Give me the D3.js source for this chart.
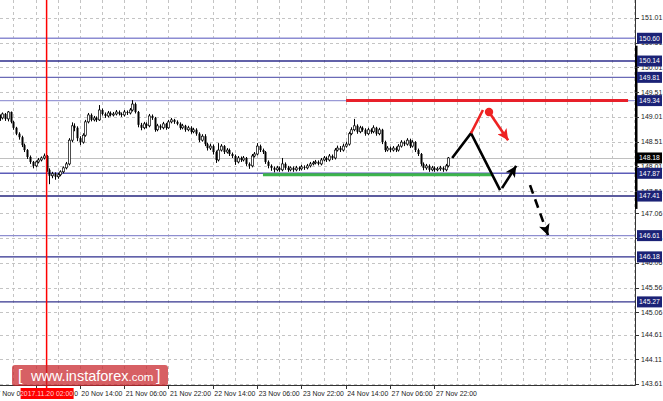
<!DOCTYPE html>
<html><head><meta charset="utf-8">
<script src="https://cdn.jsdelivr.net/npm/d3@7"></script>
<style>body{margin:0;background:#fff}svg{display:block}text{font-family:"Liberation Sans",Arial,sans-serif}</style>
</head><body><svg id="c" width="663" height="401"></svg>
<script>
// ---- data (H1 bars, index 0 = 17 Nov 06:00) ----
const firstBar = 3;
const open = [149.02,148.99,149.07,148.97,149.11,148.91,148.79,148.67,148.60,148.44,148.34,148.20,148.10,148.02,148.10,148.14,148.18,148.22,147.94,147.82,147.86,147.80,147.84,147.90,147.98,148.06,148.54,148.83,148.79,148.58,148.50,148.64,148.91,149.05,148.95,148.99,148.95,149.15,149.07,149.03,149.09,149.05,149.07,149.11,149.07,149.05,149.11,149.09,149.15,149.27,149.11,148.85,148.79,148.87,148.83,149.03,148.99,148.75,148.83,148.79,148.87,148.79,148.91,148.95,148.91,148.87,148.79,148.83,148.75,148.79,148.71,148.75,148.67,148.54,148.62,148.46,148.38,148.42,148.30,148.14,148.34,148.42,148.30,148.34,148.26,148.22,148.10,148.18,148.14,148.18,148.06,148.02,148.22,148.26,148.42,148.34,148.30,148.10,148.02,147.98,147.94,147.98,147.94,148.06,147.98,147.94,147.98,147.94,147.98,147.96,148.00,147.98,148.02,148.06,148.08,148.10,148.06,148.14,148.18,148.14,148.22,148.18,148.34,148.38,148.34,148.42,148.46,148.67,148.75,148.83,148.71,148.79,148.75,148.67,148.75,148.71,148.79,148.67,148.75,148.50,148.34,148.38,148.34,148.38,148.34,148.42,148.50,148.46,148.54,148.42,148.50,148.34,148.26,148.06,147.98,148.02,147.94,147.98,147.94,147.96,147.98,147.94,148.02];
const high = [149.06,149.10,149.09,149.13,149.12,148.93,148.81,148.70,148.63,148.47,148.36,148.23,148.12,148.13,148.18,148.21,148.27,148.24,147.97,147.90,147.89,147.88,147.93,148.01,148.10,148.58,148.90,148.88,148.82,148.62,148.68,148.95,149.09,149.08,149.03,149.02,149.25,149.18,149.10,149.13,149.12,149.11,149.15,149.14,149.10,149.15,149.14,149.19,149.35,149.30,149.13,148.89,148.91,148.90,149.07,149.06,149.01,148.87,148.86,148.91,148.89,148.95,148.99,148.97,148.94,148.90,148.87,148.85,148.83,148.82,148.79,148.78,148.70,148.66,148.66,148.49,148.47,148.45,148.33,148.48,148.46,148.44,148.38,148.37,148.29,148.25,148.22,148.21,148.22,148.20,148.09,148.26,148.30,148.48,148.45,148.37,148.32,148.13,148.05,148.01,148.02,148.01,148.18,148.09,148.02,148.01,148.01,148.02,148.01,148.04,148.03,148.06,148.10,148.12,148.14,148.13,148.18,148.22,148.21,148.26,148.25,148.38,148.43,148.42,148.47,148.51,148.71,148.80,148.97,148.86,148.83,148.82,148.78,148.79,148.78,148.84,148.81,148.79,148.77,148.53,148.42,148.41,148.42,148.41,148.46,148.54,148.53,148.58,148.57,148.54,148.52,148.37,148.28,148.09,148.06,148.05,148.02,148.01,148.00,148.02,148.01,148.06,148.20];
const low = [148.93,148.96,148.93,148.92,148.88,148.75,148.64,148.55,148.40,148.30,148.16,148.06,147.97,147.99,148.07,148.11,148.15,147.90,147.65,147.77,147.74,147.76,147.81,147.87,147.95,148.03,148.50,148.72,148.52,148.44,148.47,148.61,148.88,148.92,148.92,148.91,148.93,149.04,148.99,149.00,149.02,149.02,149.04,149.04,149.01,149.02,149.05,149.06,149.12,149.08,148.80,148.74,148.76,148.78,148.80,148.95,148.71,148.72,148.75,148.76,148.75,148.77,148.88,148.87,148.84,148.75,148.76,148.71,148.72,148.67,148.68,148.63,148.50,148.51,148.42,148.33,148.34,148.25,148.08,148.11,148.31,148.26,148.27,148.22,148.18,148.04,148.07,148.10,148.11,148.02,147.96,147.99,148.19,148.23,148.30,148.26,148.06,147.97,147.92,147.89,147.91,147.90,147.91,147.94,147.90,147.91,147.90,147.91,147.92,147.93,147.94,147.95,147.99,148.03,148.05,148.03,148.03,148.11,148.10,148.11,148.14,148.15,148.31,148.30,148.31,148.39,148.43,148.64,148.72,148.67,148.68,148.71,148.63,148.64,148.67,148.68,148.63,148.64,148.46,148.30,148.31,148.30,148.31,148.30,148.31,148.39,148.42,148.43,148.38,148.39,148.30,148.22,148.02,147.93,147.94,147.90,147.91,147.90,147.91,147.92,147.90,147.91,147.99];
const close = [148.99,149.07,148.97,149.11,148.91,148.79,148.67,148.60,148.44,148.34,148.20,148.10,148.02,148.10,148.14,148.18,148.22,147.94,147.82,147.86,147.80,147.84,147.90,147.98,148.06,148.54,148.83,148.79,148.58,148.50,148.64,148.91,149.05,148.95,148.99,148.95,149.15,149.07,149.03,149.09,149.05,149.07,149.11,149.07,149.05,149.11,149.09,149.15,149.27,149.11,148.85,148.79,148.87,148.83,149.03,148.99,148.75,148.83,148.79,148.87,148.79,148.91,148.95,148.91,148.87,148.79,148.83,148.75,148.79,148.71,148.75,148.67,148.54,148.62,148.46,148.38,148.42,148.30,148.14,148.34,148.42,148.30,148.34,148.26,148.22,148.10,148.18,148.14,148.18,148.06,148.02,148.22,148.26,148.42,148.34,148.30,148.10,148.02,147.98,147.94,147.98,147.94,148.06,147.98,147.94,147.98,147.94,147.98,147.96,148.00,147.98,148.02,148.06,148.08,148.10,148.06,148.14,148.18,148.14,148.22,148.18,148.34,148.38,148.34,148.42,148.46,148.67,148.75,148.83,148.71,148.79,148.75,148.67,148.75,148.71,148.79,148.67,148.75,148.50,148.34,148.38,148.34,148.38,148.34,148.42,148.50,148.46,148.54,148.42,148.50,148.34,148.26,148.06,147.98,148.02,147.94,147.98,147.94,147.96,147.98,147.94,148.02,148.18];

const timeTickIndex = [0,16,32,48,64,80,96,112,128,144,160];
const timeTickLabels = ["17 Nov 06:00","17 Nov 22:00","20 Nov 14:00","21 Nov 06:00","21 Nov 22:00","22 Nov 14:00","23 Nov 06:00","23 Nov 22:00","24 Nov 14:00","27 Nov 06:00","27 Nov 22:00"];
const priceTicks = [151.01,150.51,150.01,149.51,149.01,148.51,148.01,147.51,147.06,146.56,146.06,145.56,145.06,144.61,144.11,143.61];
const levels = [150.60,150.14,149.81,149.34,147.87,147.41,146.61,146.18,145.27];
const levelColors = ["#8c8cd2","#2e2e8c","#6a6ab6","#9a9ad6","#5c5cb8","#26267e","#8e8ed0","#2e2e8e","#34348e"];
const currentPrice = 148.18;
const markerIndex = 20, markerLabel = "2017.11.20 02:00";
const resistance = {from:128.1, to:229.9, price:149.34};
const support = {from:98.1, to:181.2, price:147.84};
const blackPath = [[166.4,148.18],[173.2,148.68],[183.7,147.53]];
const blackArrow = [[184.4,147.57],[189.5,148.02]];
const redPath = [[173.2,148.68],[177.5,149.15]];
const redDot = [179.7,149.11];
const redArrow = [[179.7,149.11],[186.6,148.54]];
const dashArrow = [[194.5,147.63],[201.0,146.62]];

// ---- layout ----
const W = 663, H = 401, plotRight = 635, plotBottom = 385;
const svg = d3.select("#c");
const x = d3.scaleLinear().domain([0, 232.4]).range([-8.8, plotRight]);
const y = d3.scaleLinear().domain([143.61, 151.01]).range([384, 18]);

const defs = svg.append("defs");
defs.append("clipPath").attr("id","plot").append("rect").attr("x",0).attr("y",0).attr("width",plotRight).attr("height",plotBottom);
function marker(id, color){
  defs.append("marker").attr("id",id).attr("viewBox","0 0 10 10").attr("refX",10).attr("refY",5)
    .attr("markerUnits","userSpaceOnUse").attr("markerWidth",13).attr("markerHeight",11).attr("orient","auto")
    .append("path").attr("d","M0,0 L10,5 L0,10 L2.5,5 Z").attr("fill",color);
}
marker("ab","#000"); marker("ar","#ee2222");

const g = svg.append("g").attr("clip-path","url(#plot)");

// grid
const gridIdx = d3.range(0, 233, 8);
g.selectAll(".vg").data(gridIdx).join("line")
  .attr("x1",d=>Math.round(x(d))+0.5).attr("x2",d=>Math.round(x(d))+0.5).attr("y1",0).attr("y2",plotBottom)
  .attr("stroke","#c4c4c4").attr("stroke-dasharray","3,3");
g.selectAll(".hg").data(priceTicks).join("line")
  .attr("x1",0).attr("x2",plotRight).attr("y1",d=>Math.round(y(d))+0.5).attr("y2",d=>Math.round(y(d))+0.5)
  .attr("stroke","#c4c4c4").attr("stroke-dasharray","3,3");

// current price line
g.append("line").attr("x1",0).attr("x2",plotRight).attr("y1",Math.round(y(currentPrice))+0.5).attr("y2",Math.round(y(currentPrice))+0.5)
  .attr("stroke","#c0c0c0").attr("stroke-width",1);

// level lines
g.selectAll(".lv").data(levels).join("line")
  .attr("x1",0).attr("x2",plotRight).attr("y1",d=>y(d)).attr("y2",d=>y(d))
  .attr("stroke",(d,i)=>levelColors[i]).attr("stroke-width",1.4);

// support / resistance
g.append("line").attr("x1",x(support.from)).attr("x2",x(support.to)).attr("y1",y(support.price)).attr("y2",y(support.price))
  .attr("stroke","#3cb44b").attr("stroke-width",3);
g.append("line").attr("x1",x(resistance.from)).attr("x2",x(resistance.to)).attr("y1",y(resistance.price)).attr("y2",y(resistance.price))
  .attr("stroke","#e8202a").attr("stroke-width",3);

// candles
const bars = close.map((c,k)=>({i:firstBar+k,o:open[k],h:high[k],l:low[k],c:c}));
const cg = g.append("g");
cg.selectAll(".w").data(bars).join("line")
  .attr("x1",d=>Math.round(x(d.i))+0.5).attr("x2",d=>Math.round(x(d.i))+0.5)
  .attr("y1",d=>y(d.h)).attr("y2",d=>y(d.l)).attr("stroke","#000").attr("stroke-width",1);
cg.selectAll(".b").data(bars).join("rect")
  .attr("x",d=>Math.round(x(d.i))-0.5).attr("width",2)
  .attr("y",d=>y(Math.max(d.o,d.c))).attr("height",d=>Math.max(1,Math.abs(y(d.o)-y(d.c))))
  .attr("fill",d=>d.c>=d.o?"#fff":"#000").attr("stroke","#000").attr("stroke-width",d=>d.c>=d.o?0.7:0);

// marker vertical red line (on top of candles)
svg.append("line").attr("x1",x(markerIndex)).attr("x2",x(markerIndex))
  .attr("y1",0).attr("y2",plotBottom+3).attr("stroke","#ff0000").attr("stroke-width",1.5);

// scenario lines
const line = d3.line().x(d=>x(d[0])).y(d=>y(d[1]));
g.append("path").attr("d",line(blackPath)).attr("fill","none").attr("stroke","#000").attr("stroke-width",2.6);
g.append("path").attr("d",line(blackArrow)).attr("fill","none").attr("stroke","#000").attr("stroke-width",2.6).attr("marker-end","url(#ab)");
g.append("path").attr("d",line(redPath)).attr("fill","none").attr("stroke","#ee2222").attr("stroke-width",2.6);
g.append("path").attr("d",line(redArrow)).attr("fill","none").attr("stroke","#ee2222").attr("stroke-width",2.6).attr("marker-end","url(#ar)");
g.append("circle").attr("cx",x(redDot[0])).attr("cy",y(redDot[1])).attr("r",4.2).attr("fill","#ee2222");
g.append("path").attr("d",line(dashArrow)).attr("fill","none").attr("stroke","#000").attr("stroke-width",2.6)
  .attr("stroke-dasharray","9,6").attr("marker-end","url(#ab)");

// axes lines
svg.append("line").attr("x1",0).attr("x2",plotRight+0.5).attr("y1",plotBottom+0.5).attr("y2",plotBottom+0.5).attr("stroke","#333");
svg.append("line").attr("x1",plotRight+0.5).attr("x2",plotRight+0.5).attr("y1",0).attr("y2",plotBottom+0.5).attr("stroke","#333");
svg.append("rect").attr("x",plotRight).attr("y",y(150.45)).attr("width",2.5).attr("height",y(147.15)-y(150.45)).attr("fill","#000");

// right axis ticks
const ra = svg.append("g");
ra.selectAll("line").data(priceTicks).join("line")
  .attr("x1",plotRight).attr("x2",plotRight+4).attr("y1",d=>Math.round(y(d))+0.5).attr("y2",d=>Math.round(y(d))+0.5).attr("stroke","#333");
ra.selectAll("text").data(priceTicks).join("text")
  .attr("x",641).attr("y",d=>y(d)).attr("dy","0.35em").attr("font-size",7).attr("fill","#222").text(d=>d.toFixed(2));

// level label boxes
const lb = svg.append("g");
const allBoxes = levels.map((v,i)=>({v, fill:"#1b2276"})).concat([{v:currentPrice, fill:"#000"}]);
lb.selectAll("rect").data(allBoxes).join("rect")
  .attr("x",637).attr("y",d=>y(d.v)-5.5).attr("width",25).attr("height",11).attr("fill",d=>d.fill);
lb.selectAll("text").data(allBoxes).join("text")
  .attr("x",649.5).attr("y",d=>y(d.v)).attr("dy","0.35em").attr("text-anchor","middle").attr("font-size",6.8).attr("fill","#fff").text(d=>d.v.toFixed(2));

// bottom axis
const ba = svg.append("g");
ba.selectAll("line").data(timeTickIndex).join("line")
  .attr("x1",d=>Math.round(x(d))+0.5).attr("x2",d=>Math.round(x(d))+0.5).attr("y1",plotBottom).attr("y2",plotBottom+4).attr("stroke","#333");
ba.selectAll("text").data(timeTickIndex).join("text")
  .attr("x",d=>x(d)+1.5).attr("y",396).attr("font-size",6.9).attr("fill","#222").text((d,i)=>timeTickLabels[i]);

// marker date label
const mx = x(markerIndex);
svg.append("rect").attr("x",mx-26).attr("y",388).attr("width",53).attr("height",11).attr("fill","#ff0000");
svg.append("text").attr("x",mx).attr("y",396).attr("text-anchor","middle").attr("font-size",6.9).attr("fill","#ffd0d0").text(markerLabel);

// logo
const logo = svg.append("g");
logo.append("rect").attr("x",12).attr("y",365).attr("width",156).attr("height",21).attr("rx",3)
  .attr("fill","rgb(200,35,40)").attr("opacity",0.72);
const lt = logo.append("text").attr("y",381).attr("fill","#fff").attr("font-family","'Open Sans','Liberation Sans',sans-serif");
lt.append("tspan").attr("x",18).attr("font-size",16).attr("font-weight",300).text("[");
lt.append("tspan").attr("x",31).attr("font-size",14.5).text("www.instaforex");
lt.append("tspan").attr("font-size",11.5).text(".com");
lt.append("tspan").attr("x",156).attr("font-size",16).attr("font-weight",300).text("]");
</script></body></html>
